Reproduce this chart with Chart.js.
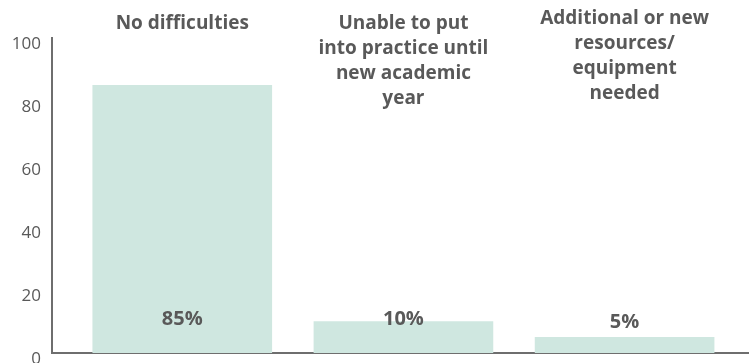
<!DOCTYPE html>
<html>
<head>
<meta charset="utf-8">
<script src="https://cdn.jsdelivr.net/npm/chart.js@4.4.1/dist/chart.umd.min.js"></script>
<style>
  html, body { margin: 0; padding: 0; background: #ffffff; }
  #wrap { width: 749px; height: 363px; position: relative; }
</style>
</head>
<body>
<div id="wrap"><canvas id="c"></canvas></div>
<script>
const categories = [
  ["No difficulties"],
  ["Unable to put", "into practice until", "new academic", "year"],
  ["Additional or new", "resources/", "equipment", "needed"]
];
const values = [85, 10, 5];
const valueLabels = ["85%", "10%", "5%"];
const yTicks = [0, 20, 40, 60, 80, 100];

const TEXT = '#595959';
const FONT = '"Open Sans", "Liberation Sans", sans-serif';

const labelPlugin = {
  id: 'labels',
  afterDatasetsDraw(chart) {
    const ctx = chart.ctx;
    const xs = chart.scales.x, ys = chart.scales.y;
    ctx.save();
    ctx.fillStyle = TEXT;
    ctx.textAlign = 'center';
    ctx.textBaseline = 'middle';
    // category labels at top
    ctx.font = 'bold 19px ' + FONT;
    const tops = [24, 24, 19];
    categories.forEach((lines, i) => {
      const cx = xs.getPixelForValue(i);
      lines.forEach((ln, j) => ctx.fillText(ln, cx, tops[i] + j * 25));
    });
    // value labels near bottom
    ctx.font = 'bold 20px ' + FONT;
    const base = ys.getPixelForValue(0);
    const offs = [34, 34, 31];
    valueLabels.forEach((t, i) => {
      ctx.fillText(t, xs.getPixelForValue(i), base - offs[i]);
    });
    ctx.restore();
  }
};

new Chart(document.getElementById('c'), {
  type: 'bar',
  data: {
    datasets: [{
      data: values.map((v, i) => ({ x: i, y: v })),
      backgroundColor: '#cfe7e0',
      borderWidth: 0,
      barThickness: 179
    }]
  },
  options: {
    responsive: true,
    maintainAspectRatio: false,
    animation: false,
    layout: { padding: { top: 38, right: 0, bottom: 0, left: 0 } },
    plugins: { legend: { display: false }, tooltip: { enabled: false } },
    scales: {
      x: {
        type: 'linear',
        offset: false,
        min: -0.589,
        max: 2.5625,
        grid: { display: false, drawTicks: false, offset: false },
        ticks: { display: false },
        border: { display: true, color: '#6e6e6e', width: 2 },
        afterFit(s) { s.height = 10; s.paddingLeft = 0; s.paddingRight = 0; }
      },
      y: {
        min: 0,
        max: 100,
        afterBuildTicks(s) { s.ticks = yTicks.map(v => ({ value: v })); },
        grid: { display: false, drawTicks: false },
        border: { display: true, color: '#6e6e6e', width: 2 },
        ticks: {
          color: TEXT,
          padding: 11,
          labelOffset: 6,
          font: { family: FONT, size: 17 }
        },
        afterFit(s) { s.width = 52; s.paddingTop = 0; s.paddingBottom = 0; }
      }
    }
  },
  plugins: [labelPlugin]
});
</script>
</body>
</html>
